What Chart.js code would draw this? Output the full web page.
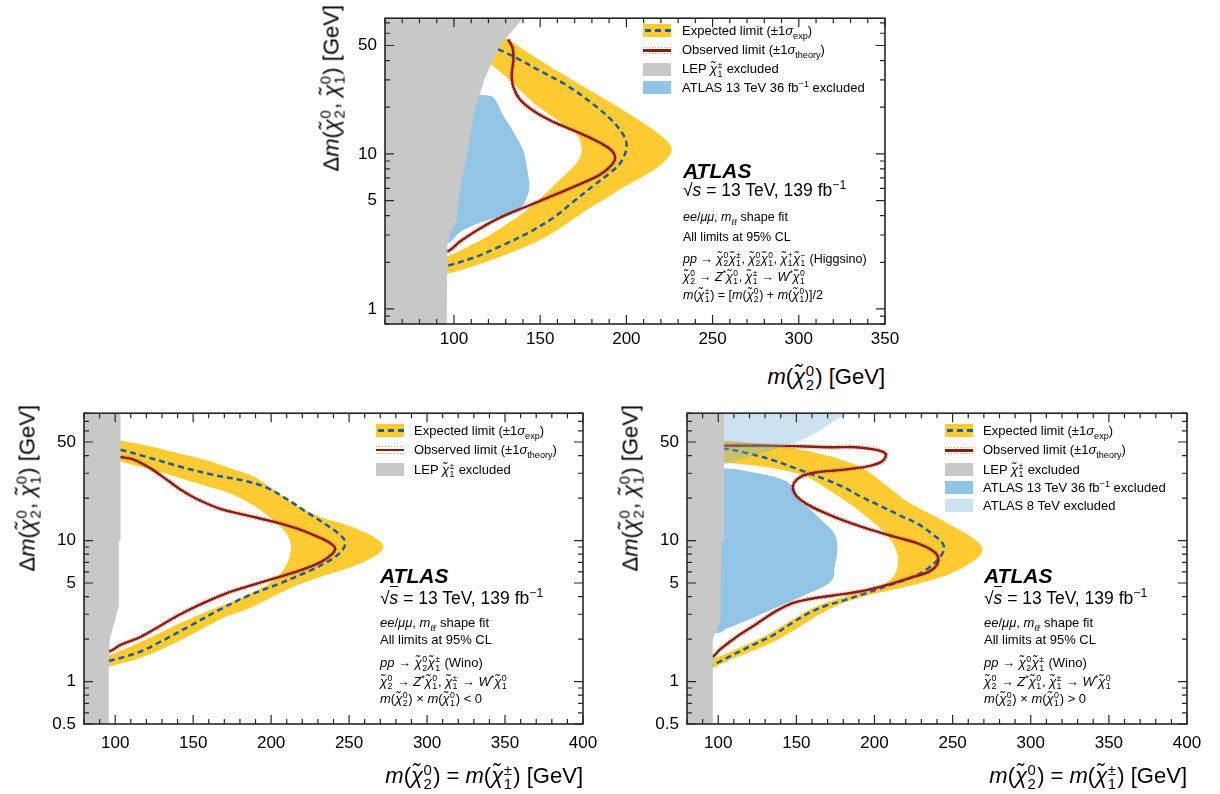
<!DOCTYPE html>
<html>
<head>
<meta charset="utf-8">
<script src="https://cdn.jsdelivr.net/npm/chart.js@4.4.1/dist/chart.umd.min.js"></script>
<style>
body { margin: 0; width: 1220px; height: 794px; background: #fff; position: relative; overflow: hidden;
       font-family: "Liberation Sans", Arial, Helvetica, sans-serif; color: #000; }
canvas { position: absolute; }
.t { position: absolute; white-space: nowrap; }
.ss { display: inline-block; vertical-align: -0.38em; font-size: 0.68em; line-height: 0.92em; text-align: left; margin-left: 0.04em; margin-right: 0.08em; }
.ss span { display: block; }
sub, sup { font-size: 0.7em; line-height: 0; }
.ov { border-top: 1px solid #000; padding-top: 1px; }
.sw { position: absolute; width: 28px; height: 13px; }
</style>
</head>
<body>
<canvas id="c1" width="610" height="360" style="left:300px;top:0px"></canvas>
<canvas id="c2" width="610" height="399" style="left:0px;top:395px"></canvas>
<canvas id="c3" width="620" height="399" style="left:600px;top:395px"></canvas>
<script>
// ---- top panel: Higgsino ----
const topXTicks = [100, 150, 200, 250, 300, 350];
const topYTicks = [1, 5, 10, 50];

const topLepX = [60, 95.8, 96.2, 97.7, 101.6, 103.5, 107.7, 112.2, 118, 126.7, 140, 60];
const topLepY = [0.8, 0.8, 2.65, 3.06, 3.7, 5.94, 10, 19.4, 31, 50, 75, 75];

const top36X = [117, 122.8, 128.6, 134.4, 140.2, 142.2, 143.7, 141.2, 138.3, 126.7, 113.2, 103.5, 96.7, 90, 90, 110];
const top36Y = [24.0, 23.2, 17.7, 13.9, 10.5, 8.3, 6.08, 4.91, 4.47, 3.97, 3.53, 3.13, 2.65, 2.65, 24, 24];

const topBandX = [122.8, 131.5, 142.2, 153.8, 169.2, 184.7, 200.2, 211.8, 220.5, 225.3, 226.3, 224.3, 218.5, 209.8, 198.2, 184.7, 173.1, 159.6, 146.0, 130.6, 115.1, 103.5, 96.2, 84.2,
                  84.2, 96.2, 119.0, 130.6, 140.2, 148.0, 153.8, 161.5, 169.2, 173.1, 174.1, 171.2, 161.5, 146.0, 132.5, 122.8, 113.2];
const topBandY = [60.6, 54.6, 45.6, 37.7, 29.7, 23.5, 18.5, 15.3, 13.0, 11.5, 10.4, 9.53, 8.27, 7.18, 6.08, 4.91, 4.07, 3.21, 2.65, 2.25, 1.95, 1.77, 1.69, 1.57,
                  2.04, 2.19, 2.92, 3.53, 4.16, 4.91, 5.66, 6.84, 8.27, 9.53, 11.0, 13.3, 16.1, 21.4, 29.7, 36.8, 43.5];

const topExpX = [120, 126.7, 136.4, 149.9, 165.4, 180.8, 192.4, 199.2, 200.2, 199.2, 196.3, 190.5, 180.8, 169.2, 157.6, 142.2, 126.7, 111.2, 96.2, 90];
const topExpY = [49.5, 46.7, 41.5, 34.3, 27.7, 20.9, 16.1, 12.7, 11.0, 10.0, 8.68, 7.53, 6.23, 4.91, 3.88, 3.06, 2.53, 2.14, 1.90, 1.85];

const topObsX = [131.5, 134.1, 134.4, 133.5, 134.4, 138.3, 146.0, 157.6, 173.1, 184.7, 191.5, 193.4, 190.5, 184.7, 173.1, 157.6, 142.2, 126.7, 113.2, 103.5, 96.7, 90];
const topObsY = [54.6, 47.8, 39.6, 32.7, 27.1, 22.4, 19.0, 16.1, 13.6, 11.8, 10.5, 9.3, 8.27, 7.35, 6.38, 5.40, 4.58, 3.88, 3.21, 2.72, 2.36, 2.3];

// ---- bottom panels: Wino ----
const botXTicks = [100, 150, 200, 250, 300, 350, 400];
const botYTicks = [0.5, 1, 5, 10, 50];

const blLepX = [80, 95.9, 95.9, 96.6, 99.5, 102.2, 102.3, 103.4, 103.4, 80];
const blLepY = [0.5, 0.5, 1.5, 2.02, 2.6, 3.43, 9.87, 10.0, 80, 80];

const blBandX = [90, 103.8, 120.4, 141.8, 158.8, 173.7, 188.7, 201.5, 216.4, 231.4, 248.4, 261.2, 269.8, 271.9, 269.8, 261.2, 248.4, 231.4, 214.3, 197.2, 184.4, 167.4, 148.2, 131.1, 116.2, 97.0, 86.3,
                 86.3, 97.0, 120.4, 141.8, 163.1, 180.2, 197.2, 206.8, 211.7, 212.6, 208.9, 201.5, 188.7, 173.7, 158.8, 141.8, 120.4, 103.8, 90.6];
const blBandY = [53, 51.0, 47.1, 41.3, 37.1, 32.5, 28.5, 23.0, 17.7, 14.7, 12.9, 11.3, 9.88, 9.12, 8.21, 7.19, 6.30, 5.52, 4.71, 3.81, 3.25, 2.77, 2.13, 1.72, 1.47, 1.29, 1.22,
                 1.51, 1.55, 2.0, 2.6, 3.28, 3.91, 4.83, 5.97, 7.58, 9.37, 11.6, 13.9, 17.7, 21.6, 24.3, 27.7, 32.5, 36.1, 39.1];

const blExpX = [97, 103.4, 120.4, 141.8, 163.1, 184.4, 197.2, 210.0, 222.8, 235.6, 244.0, 247.4, 246.7, 242.0, 233.5, 222.8, 205.7, 184.4, 167.4, 148.2, 131.1, 116.2, 103.4, 97.0, 90];
const blExpY = [45, 44.0, 39.1, 33.4, 29.2, 26.3, 23.7, 19.7, 15.9, 12.9, 11.0, 9.88, 8.89, 7.79, 6.82, 5.97, 4.97, 4.02, 3.25, 2.49, 1.97, 1.63, 1.47, 1.41, 1.37];

const blObsX = [97, 103.4, 111.9, 122.6, 133.2, 141.8, 152.4, 167.4, 184.4, 201.5, 216.4, 229.3, 237.8, 241.0, 238.9, 231.4, 218.6, 201.5, 184.4, 171.6, 156.7, 141.8, 129.0, 116.2, 103.4, 97.0, 90];
const blObsY = [39.5, 39.1, 37.5, 32.5, 27.0, 23.0, 19.7, 16.8, 15.1, 13.6, 12.2, 10.7, 9.62, 8.79, 7.99, 7.00, 6.14, 5.37, 4.71, 4.24, 3.61, 3.00, 2.49, 2.07, 1.82, 1.65, 1.6];

const brLepX = [80, 96.5, 96.5, 101.2, 101.5, 102.0, 103.8, 103.8, 80];
const brLepY = [0.5, 0.5, 2.0, 2.63, 5, 9.9, 10.1, 80, 80];

const br36X = [88.1, 104.1, 120.1, 135.1, 143.6, 149.0, 152.1, 158.5, 167.1, 173.5, 176.0, 176.0, 174.5, 173.5, 169.2, 158.5, 141.5, 120.1, 105.2, 100.9, 88.1];
const br36Y = [32.5, 32.5, 30.8, 28.5, 26.3, 23.0, 19.1, 16.8, 13.6, 11.6, 9.88, 7.99, 6.47, 5.37, 4.83, 4.24, 3.52, 2.77, 2.37, 2.22, 2.22];

const br8X = [80, 182.0, 173.5, 162.8, 152.1, 141.5, 130.8, 115.9, 104.1, 88.1, 80];
const br8Y = [80, 80, 70.0, 58.2, 51.0, 46.4, 42.4, 38.1, 34.8, 33.4, 33.4];

const brBandX = [88.1, 104.1, 120.1, 137.2, 150.0, 164.9, 179.9, 192.6, 205.5, 220.4, 237.5, 252.4, 263.1, 269.0, 267.3, 258.8, 246.0, 228.9, 211.9, 194.8, 179.9, 164.9, 150.0, 135.1, 120.1, 105.2, 96.7, 88.1,
                 88.1, 96.7, 113.7, 130.8, 147.9, 160.7, 173.5, 188.4, 203.3, 211.9, 215.1, 214.0, 209.7, 201.2, 188.4, 173.5, 158.5, 143.6, 126.5, 104.1, 88.1];
const brBandY = [52.4, 51.0, 49.6, 47.1, 44.7, 41.3, 37.1, 32.5, 25.6, 19.1, 15.1, 12.2, 10.4, 8.89, 7.79, 6.64, 5.67, 4.97, 4.47, 4.06, 3.61, 3.00, 2.37, 1.91, 1.62, 1.39, 1.25, 1.16,
                 1.43, 1.46, 1.74, 2.13, 2.77, 3.34, 3.77, 4.19, 4.71, 5.52, 6.82, 8.43, 10.4, 12.9, 16.8, 21.8, 27.7, 31.3, 33.7, 35.6, 36.1];

const brExpX = [90, 104.1, 120.1, 135.1, 152.1, 169.2, 179.9, 190.5, 203.3, 216.1, 228.9, 237.5, 243.4, 244.5, 241.7, 235.3, 224.7, 209.7, 194.8, 182.0, 169.2, 158.5, 147.9, 135.1, 122.3, 109.5, 96.7, 90];
const brExpY = [45, 44.7, 41.3, 37.1, 31.7, 27.0, 24.0, 20.7, 17.7, 15.1, 12.9, 11.0, 9.62, 8.65, 7.58, 6.47, 5.52, 4.83, 4.24, 3.81, 3.46, 3.08, 2.63, 2.13, 1.82, 1.55, 1.32, 1.28];

const brObsX = [95, 104.1, 130.8, 152.1, 173.5, 188.4, 201.2, 206.5, 207.2, 204.4, 194.8, 177.7, 162.8, 153.2, 148.5, 147.9, 150.0, 156.4, 167.1, 179.9, 194.8, 211.9, 226.8, 237.5, 240.7, 239.6, 234.3, 224.7, 207.6, 190.5, 173.5, 158.5, 147.9, 137.2, 124.4, 111.6, 100.9, 96.7, 90];
const brObsY = [47.1, 47.1, 47.1, 46.6, 45.9, 45.9, 44.0, 42, 39.5, 36.1, 33.4, 31.6, 30.5, 28.5, 25.6, 23.0, 20.7, 18.2, 15.9, 13.9, 12.2, 10.7, 9.62, 8.43, 7.58, 6.64, 5.97, 5.52, 4.83, 4.35, 4.08, 3.85, 3.61, 3.17, 2.56, 2.07, 1.68, 1.51, 1.45];

const YELLOW = '#fecb32';
const EXPBLUE = '#1d5c9e';
const OBSRED = '#8b1c0e';
const THEORY = 'rgba(205,95,85,0.6)';
const LEPGRAY = '#c8c8c8';
const BLUE36 = '#92c4e6';
const BLUE8 = 'rgba(107,174,214,0.35)';

Chart.defaults.font.family = '"Liberation Sans", Arial, sans-serif';
Chart.defaults.color = '#000';

const xy = (xs, ys) => xs.map((v, i) => ({x: v, y: ys[i]}));

function region(xs, ys, color, order, tension) {
    return {data: xy(xs, ys), showLine: true, fill: 'shape', backgroundColor: color,
        borderColor: 'rgba(0,0,0,0)', borderWidth: 0, pointRadius: 0, tension: tension || 0, order: order};
}

function curve(xs, ys, color, width, dash, order) {
    return {data: xy(xs, ys), showLine: true, fill: false, borderColor: color, borderWidth: width,
        borderDash: dash, pointRadius: 0, tension: 0.35, order: order};
}

function obsPair(xs, ys) {
    return [curve(xs, ys, THEORY, 5, [1.2, 1.6], 7), curve(xs, ys, OBSRED, 2.4, [], 6)];
}

// inward ticks on all four sides plus the frame
const frameTicks = {
    id: 'frameTicks',
    afterDatasetsDraw(chart, args, o) {
        const ctx = chart.ctx, a = chart.chartArea;
        const x = chart.scales.x, y = chart.scales.y;
        ctx.save();
        ctx.strokeStyle = '#262626';
        ctx.lineWidth = 1.2;
        ctx.beginPath();
        for (let v = Math.ceil(x.min / 10) * 10; v <= x.max + 0.01; v += 10) {
            const p = x.getPixelForValue(v);
            const len = o.xMajor.indexOf(v) >= 0 ? 9 : 5;
            ctx.moveTo(p, a.bottom); ctx.lineTo(p, a.bottom - len);
            ctx.moveTo(p, a.top); ctx.lineTo(p, a.top + len);
        }
        for (let e = -1; e <= 2; e++) {
            for (let m = 1; m <= 9; m++) {
                const v = +(m * Math.pow(10, e)).toPrecision(3);
                if (v < y.min || v > y.max) continue;
                const p = y.getPixelForValue(v);
                const len = o.yMajor.indexOf(v) >= 0 ? 9 : 5;
                ctx.moveTo(a.left, p); ctx.lineTo(a.left + len, p);
                ctx.moveTo(a.right, p); ctx.lineTo(a.right - len, p);
            }
        }
        ctx.stroke();
        ctx.lineWidth = 1.6;
        ctx.strokeRect(a.left, a.top, a.right - a.left, a.bottom - a.top);
        ctx.restore();
    }
};

function makeOptions(xmin, xmax, ymin, ymax, xTicks, yTicks, yWidth, xHeight, pad, xPad) {
    return {
        responsive: false,
        animation: false,
        layout: {padding: pad},
        plugins: {legend: {display: false}, tooltip: {enabled: false}, frameTicks: {xMajor: xTicks, yMajor: yTicks}},
        scales: {
            x: {
                type: 'linear', min: xmin, max: xmax,
                grid: {display: false, drawTicks: false}, border: {display: false},
                afterBuildTicks: s => { s.ticks = xTicks.map(v => ({value: v})); },
                afterFit: s => { s.height = xHeight; },
                ticks: {padding: xPad, maxRotation: 0, autoSkip: false, font: {size: 17}, callback: v => v}
            },
            y: {
                type: 'logarithmic', min: ymin, max: ymax,
                grid: {display: false, drawTicks: false}, border: {display: false},
                afterBuildTicks: s => { s.ticks = yTicks.map(v => ({value: v})); },
                afterFit: s => { s.width = yWidth; },
                ticks: {padding: 8, autoSkip: false, font: {size: 17}, callback: v => v}
            }
        }
    };
}

new Chart(document.getElementById('c1'), {
    type: 'scatter',
    data: {datasets: [
        region(topLepX, topLepY, LEPGRAY, 1, 0),
        region(top36X, top36Y, BLUE36, 10, 0.3),
        region(topBandX, topBandY, YELLOW, 9, 0.3),
        curve(topExpX, topExpY, EXPBLUE, 2.5, [6, 4], 8)
    ].concat(obsPair(topObsX, topObsY))},
    options: makeOptions(60, 350, 0.8, 75, topXTicks, topYTicks, 85, 36, {left: 0, top: 5, right: 25, bottom: 0}, 5),
    plugins: [frameTicks]
});

new Chart(document.getElementById('c2'), {
    type: 'scatter',
    data: {datasets: [
        region(blLepX, blLepY, LEPGRAY, 1, 0),
        region(blBandX, blBandY, YELLOW, 9, 0.3),
        curve(blExpX, blExpY, EXPBLUE, 2.5, [6, 4], 8)
    ].concat(obsPair(blObsX, blObsY))},
    options: makeOptions(80, 400, 0.5, 80, botXTicks, botYTicks, 84, 70, {left: 0, top: 10, right: 27, bottom: 0}, 9),
    plugins: [frameTicks]
});

new Chart(document.getElementById('c3'), {
    type: 'scatter',
    data: {datasets: [
        region(brLepX, brLepY, LEPGRAY, 1, 0),
        region(br8X, br8Y, BLUE8, 5, 0.3),
        region(br36X, br36Y, BLUE36, 10, 0.3),
        region(brBandX, brBandY, YELLOW, 9, 0.3),
        curve(brExpX, brExpY, EXPBLUE, 2.5, [6, 4], 8)
    ].concat(obsPair(brObsX, brObsY))},
    options: makeOptions(80, 400, 0.5, 80, botXTicks, botYTicks, 87, 70, {left: 0, top: 10, right: 33, bottom: 0}, 9),
    plugins: [frameTicks]
});

// ---- text overlays ----
const chi = (sup, sub) => '<i>χ̃</i><span class="ss"><span>' + sup + '</span><span>' + sub + '</span></span>';

function put(html, x, cy, size, right) {
    const d = document.createElement('div');
    d.className = 't';
    if (right) d.style.right = (1220 - x) + 'px'; else d.style.left = x + 'px';
    d.style.top = (cy - size * 0.6) + 'px';
    d.style.fontSize = size + 'px';
    d.style.lineHeight = (size * 1.2) + 'px';
    d.innerHTML = html;
    document.body.appendChild(d);
}

function putV(html, x, top, size) {
    const w = document.createElement('div');
    w.style.cssText = 'position:absolute;left:' + x + 'px;top:' + top + 'px;width:0;height:0';
    const d = document.createElement('div');
    d.className = 't';
    d.style.right = '0px';
    d.style.top = '0px';
    d.style.transformOrigin = '100% 0';
    d.style.transform = 'rotate(-90deg)';
    d.style.fontSize = size + 'px';
    d.style.lineHeight = (size * 1.2) + 'px';
    d.innerHTML = html;
    w.appendChild(d);
    document.body.appendChild(w);
}

function swatch(kind, x, cy) {
    const d = document.createElement('div');
    d.className = 'sw';
    d.style.left = x + 'px';
    d.style.top = (cy - 6.5) + 'px';
    if (kind === 'exp') {
        d.style.background = YELLOW;
        d.innerHTML = '<div style="position:absolute;left:2px;right:0;top:5px;height:2.5px;background:repeating-linear-gradient(90deg,' + EXPBLUE + ' 0 6px,transparent 6px 10px)"></div>';
    } else if (kind === 'obs') {
        const dots = 'repeating-linear-gradient(90deg,' + THEORY + ' 0 1.5px,transparent 1.5px 3px)';
        d.innerHTML = '<div style="position:absolute;left:0;right:0;top:3px;height:1px;background:' + dots + '"></div>' +
            '<div style="position:absolute;left:0;right:0;top:5.5px;height:2.5px;background:' + OBSRED + '"></div>' +
            '<div style="position:absolute;left:0;right:0;top:9.5px;height:1px;background:' + dots + '"></div>';
    } else if (kind === 'lep') {
        d.style.background = LEPGRAY;
    } else if (kind === 'b36') {
        d.style.background = BLUE36;
    } else {
        d.style.background = BLUE8;
    }
    document.body.appendChild(d);
}

const legendText = {
    exp: 'Expected limit (±1<i>σ</i><sub>exp</sub>)',
    obs: 'Observed limit (±1<i>σ</i><sub>theory</sub>)',
    lep: 'LEP ' + chi('±', '1') + ' excluded',
    b36: 'ATLAS 13 TeV 36 fb<sup>−1</sup> excluded',
    b8: 'ATLAS 8 TeV excluded'
};

function legend(kinds, sx, tx, rows) {
    kinds.forEach((k, i) => {
        swatch(k, sx, rows[i]);
        put(legendText[k], tx, rows[i], 13);
    });
}

legend(['exp', 'obs', 'lep', 'b36'], 643, 682, [30.5, 50, 69, 87.5]);
legend(['exp', 'obs', 'lep'], 376, 414, [430.7, 449.5, 469.3]);
legend(['exp', 'obs', 'lep', 'b36', 'b8'], 945, 983, [430.7, 450, 469.3, 487.5, 505.5]);

const decays = chi('0', '2') + ' → <i>Z</i><sup>*</sup>' + chi('0', '1') + ', ' + chi('±', '1') + ' → <i>W</i><sup>*</sup>' + chi('0', '1');

function atlasBlock(x, rows, lines, small) {
    put('<b><i>ATLAS</i></b>', x, rows[0], 21);
    put('√<span class="ov"><i>s</i></span> = 13 TeV, 139 fb<sup>−1</sup>', x, rows[1], 17.5);
    put('<i>ee</i>/<i>μμ</i>, <i>m</i><sub><i>ℓℓ</i></sub> shape fit', x, rows[2], small);
    put('All limits at 95% CL', x, rows[3], small);
    lines.forEach((l, i) => put(l, x, rows[4 + i], small));
}

atlasBlock(683, [171, 190, 217, 237, 259, 277, 295], [
    '<i>pp</i> → ' + chi('0', '2') + chi('±', '1') + ', ' + chi('0', '2') + chi('0', '1') + ', ' + chi('+', '1') + chi('−', '1') + ' (Higgsino)',
    decays,
    '<i>m</i>(' + chi('±', '1') + ') = [<i>m</i>(' + chi('0', '2') + ') + <i>m</i>(' + chi('0', '1') + ')]/2'
], 12.5);

const botRows = [576, 598, 622.5, 640, 663, 681.5, 698.5];
atlasBlock(380, botRows, [
    '<i>pp</i> → ' + chi('0', '2') + chi('±', '1') + ' (Wino)',
    decays,
    '<i>m</i>(' + chi('0', '2') + ') × <i>m</i>(' + chi('0', '1') + ') &lt; 0'
], 13);
atlasBlock(984, botRows, [
    '<i>pp</i> → ' + chi('0', '2') + chi('±', '1') + ' (Wino)',
    decays,
    '<i>m</i>(' + chi('0', '2') + ') × <i>m</i>(' + chi('0', '1') + ') &gt; 0'
], 13);

// axis titles
const yTitle = 'Δ<i>m</i>(' + chi('0', '2') + ', ' + chi('0', '1') + ') [GeV]';
putV(yTitle, 319, 5, 22);
putV(yTitle, 15, 405, 22);
putV(yTitle, 618, 405, 22);

put('<i>m</i>(' + chi('0', '2') + ') [GeV]', 885, 377, 22, true);
const xTitleBot = '<i>m</i>(' + chi('0', '2') + ') = <i>m</i>(' + chi('±', '1') + ') [GeV]';
put(xTitleBot, 583, 776, 22, true);
put(xTitleBot, 1187, 776, 22, true);
</script>
</body>
</html>
